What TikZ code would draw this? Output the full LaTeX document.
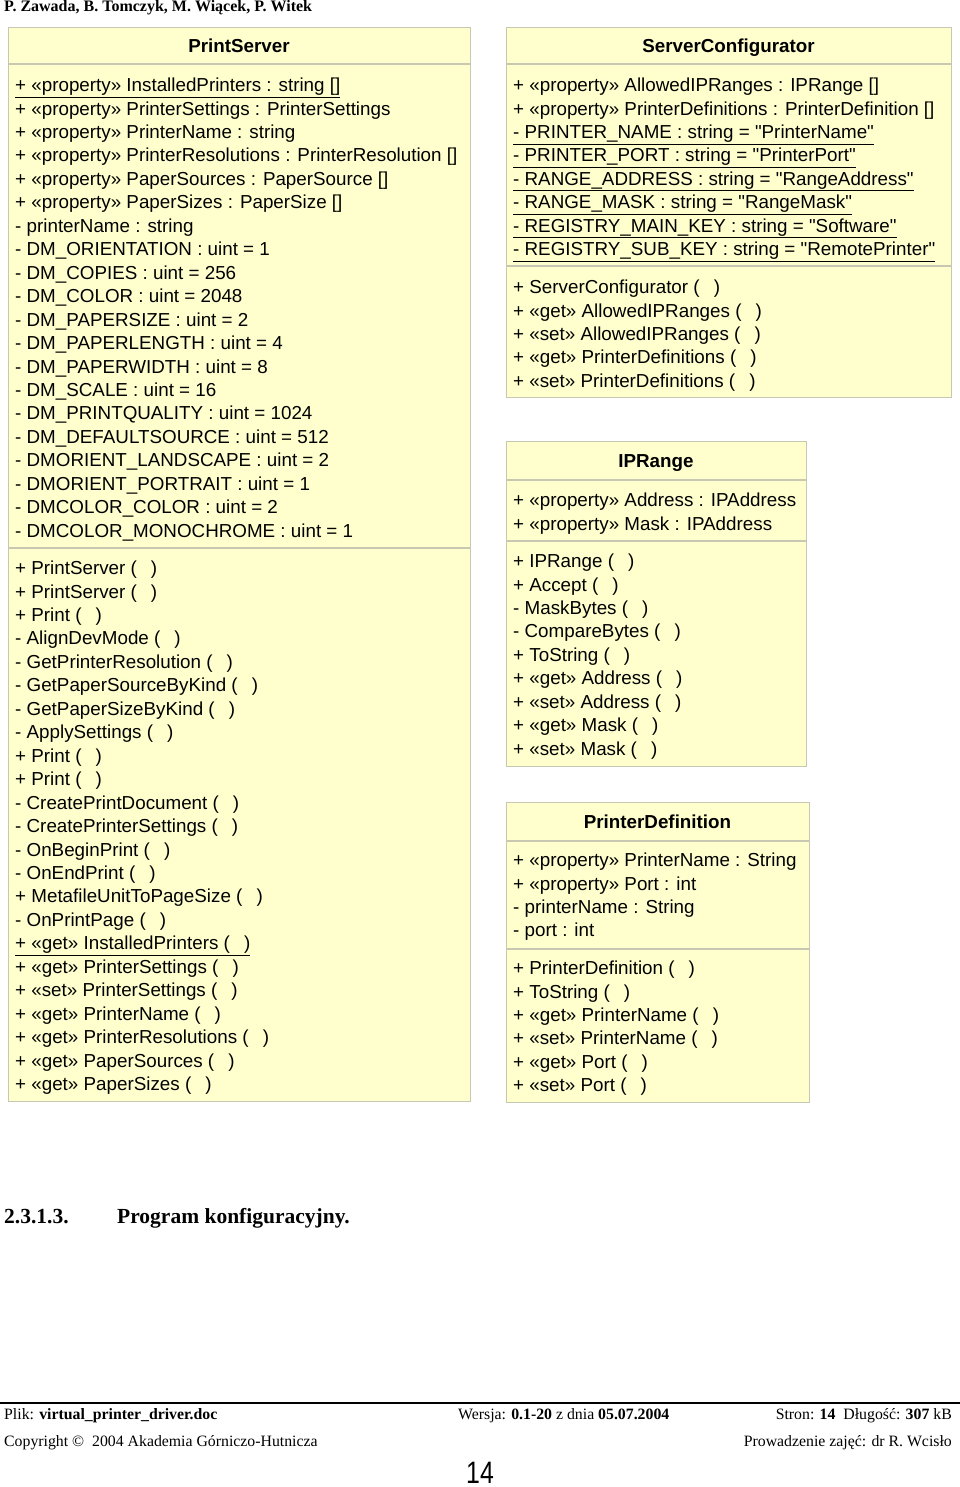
\documentclass[tikz,border=0pt]{standalone}
\usepackage{fontspec}
\usepackage{graphicx}
\setmainfont{Liberation Serif}
\newfontfamily\umlfont{Liberation Sans}
\definecolor{umlfill}{RGB}{255,255,206}
\definecolor{umlline}{RGB}{200,200,178}
\newcommand\ea{(\hspace{0.75em})}
\begin{document}
\begin{tikzpicture}[x=1pt,y=-1pt,
  cls/.style={draw=umlline, fill=umlfill, line width=1.2pt, inner sep=0pt, anchor=north west},
  sep/.style={draw=umlline, line width=1.2pt},
  ttl/.style={font=\umlfont\fontsize{18.8}{22}\selectfont\bfseries, inner sep=0pt, anchor=base},
  mem/.style={font=\umlfont\fontsize{18.8}{22}\selectfont, inner sep=0pt, anchor=base west},
  doc/.style={font=\fontsize{16}{18}\selectfont, inner sep=0pt, anchor=base west},
  foot/.style={font=\fontsize{15.8}{18}\selectfont, inner sep=0pt},
]
\useasboundingbox (0,0) rectangle (960,1487);
\fill[white] (0,0) rectangle (960,1487);

% header
\node[doc, font=\fontsize{16}{18}\selectfont\bfseries] (hdr) at (4,12) {P. Zawada, B. Tomczyk, M. Wiącek, P. Witek};

% ---------------- PrintServer
\node[cls, minimum width=462, minimum height=1074] (ps) at (8,27) {};
\draw[sep] (8,64) -- (470,64);
\draw[sep] (8,548) -- (470,548);
\node[ttl] (pst) at (239,52.6) {PrintServer};
\foreach \t [count=\i] in {
 {\underline{+ «property» InstalledPrinters : string []}},
 {+ «property» PrinterSettings : PrinterSettings},
 {+ «property» PrinterName : string},
 {+ «property» PrinterResolutions : PrinterResolution []},
 {+ «property» PaperSources : PaperSource []},
 {+ «property» PaperSizes : PaperSize []},
 {- printerName : string},
 {- DM\_ORIENTATION : uint = 1},
 {- DM\_COPIES : uint = 256},
 {- DM\_COLOR : uint = 2048},
 {- DM\_PAPERSIZE : uint = 2},
 {- DM\_PAPERLENGTH : uint = 4},
 {- DM\_PAPERWIDTH : uint = 8},
 {- DM\_SCALE : uint = 16},
 {- DM\_PRINTQUALITY : uint = 1024},
 {- DM\_DEFAULTSOURCE : uint = 512},
 {- DMORIENT\_LANDSCAPE : uint = 2},
 {- DMORIENT\_PORTRAIT : uint = 1},
 {- DMCOLOR\_COLOR : uint = 2},
 {- DMCOLOR\_MONOCHROME : uint = 1}}
 \node[mem] (psa\i) at (15,{91.6+23.45*(\i-1)}) {\t};
\foreach \t [count=\i] in {
 {+ PrintServer \ea},
 {+ PrintServer \ea},
 {+ Print \ea},
 {- AlignDevMode \ea},
 {- GetPrinterResolution \ea},
 {- GetPaperSourceByKind \ea},
 {- GetPaperSizeByKind \ea},
 {- ApplySettings \ea},
 {+ Print \ea},
 {+ Print \ea},
 {- CreatePrintDocument \ea},
 {- CreatePrinterSettings \ea},
 {- OnBeginPrint \ea},
 {- OnEndPrint \ea},
 {+ MetafileUnitToPageSize \ea},
 {- OnPrintPage \ea},
 {\underline{+ «get» InstalledPrinters \ea}},
 {+ «get» PrinterSettings \ea},
 {+ «set» PrinterSettings \ea},
 {+ «get» PrinterName \ea},
 {+ «get» PrinterResolutions \ea},
 {+ «get» PaperSources \ea},
 {+ «get» PaperSizes \ea}}
 \node[mem] (pso\i) at (15,{574.6+23.45*(\i-1)}) {\t};

% ---------------- ServerConfigurator
\node[cls, minimum width=445, minimum height=370] (sc) at (506,27) {};
\draw[sep] (506,64) -- (951,64);
\draw[sep] (506,266) -- (951,266);
\node[ttl] (sct) at (728.5,52.6) {ServerConfigurator};
\foreach \t [count=\i] in {
 {+ «property» AllowedIPRanges : IPRange []},
 {+ «property» PrinterDefinitions : PrinterDefinition []},
 {\underline{- PRINTER\_NAME : string = "PrinterName"}},
 {\underline{- PRINTER\_PORT : string = "PrinterPort"}},
 {\underline{- RANGE\_ADDRESS : string = "RangeAddress"}},
 {\underline{- RANGE\_MASK : string = "RangeMask"}},
 {\underline{- REGISTRY\_MAIN\_KEY : string = "Software"}},
 {\underline{- REGISTRY\_SUB\_KEY : string = "RemotePrinter"}}}
 \node[mem] (sca\i) at (513,{91.6+23.45*(\i-1)}) {\t};
\foreach \t [count=\i] in {
 {+ ServerConfigurator \ea},
 {+ «get» AllowedIPRanges \ea},
 {+ «set» AllowedIPRanges \ea},
 {+ «get» PrinterDefinitions \ea},
 {+ «set» PrinterDefinitions \ea}}
 \node[mem] (sco\i) at (513,{293.6+23.45*(\i-1)}) {\t};

% ---------------- IPRange
\node[cls, minimum width=300, minimum height=325] (ipr) at (506,441) {};
\draw[sep] (506,480) -- (806,480);
\draw[sep] (506,541) -- (806,541);
\node[ttl] (iprt) at (656,467.6) {IPRange};
\foreach \t [count=\i] in {
 {+ «property» Address : IPAddress},
 {+ «property» Mask : IPAddress}}
 \node[mem] (ipra\i) at (513,{506.6+23.45*(\i-1)}) {\t};
\foreach \t [count=\i] in {
 {+ IPRange \ea},
 {+ Accept \ea},
 {- MaskBytes \ea},
 {- CompareBytes \ea},
 {+ ToString \ea},
 {+ «get» Address \ea},
 {+ «set» Address \ea},
 {+ «get» Mask \ea},
 {+ «set» Mask \ea}}
 \node[mem] (ipro\i) at (513,{567.6+23.45*(\i-1)}) {\t};

% ---------------- PrinterDefinition
\node[cls, minimum width=303, minimum height=300] (pd) at (506,802) {};
\draw[sep] (506,841) -- (809,841);
\draw[sep] (506,949) -- (809,949);
\node[ttl] (pdt) at (657.5,828.6) {PrinterDefinition};
\foreach \t [count=\i] in {
 {+ «property» PrinterName : String},
 {+ «property» Port : int},
 {- printerName : String},
 {- port : int}}
 \node[mem] (pda\i) at (513,{866.6+23.45*(\i-1)}) {\t};
\foreach \t [count=\i] in {
 {+ PrinterDefinition \ea},
 {+ ToString \ea},
 {+ «get» PrinterName \ea},
 {+ «set» PrinterName \ea},
 {+ «get» Port \ea},
 {+ «set» Port \ea}}
 \node[mem] (pdo\i) at (513,{974.6+23.45*(\i-1)}) {\t};

% ---------------- section heading
\node[doc, font=\fontsize{21.5}{24}\selectfont\bfseries] (secn) at (4,1223) {2.3.1.3.};
\node[doc, font=\fontsize{21.5}{24}\selectfont\bfseries] (sect) at (117,1223) {Program konfiguracyjny.};

% ---------------- footer
\draw[line width=1.5pt] (0,1403) -- (960,1403);
\node[foot, anchor=base west] (f1) at (4,1419) {Plik: \textbf{virtual\_printer\_driver.doc}};
\node[foot, anchor=base west] (f2) at (458,1419) {Wersja: \textbf{0.1-20} z dnia \textbf{05.07.2004}};
\node[foot, anchor=base east] (f3) at (952,1419) {Stron: \textbf{14}\ \ Długość: \textbf{307} kB};
\node[foot, anchor=base west] (f4) at (4,1446) {Copyright ©\ \ 2004 Akademia Górniczo-Hutnicza};
\node[foot, anchor=base east] (f5) at (952,1446) {Prowadzenie zajęć: dr R. Wcisło};
\node[inner sep=0pt, anchor=base, font=\umlfont\fontsize{31}{33}\selectfont] (pg) at (480,1483) {\scalebox{0.8}[1]{14}};
\end{tikzpicture}
\end{document}
